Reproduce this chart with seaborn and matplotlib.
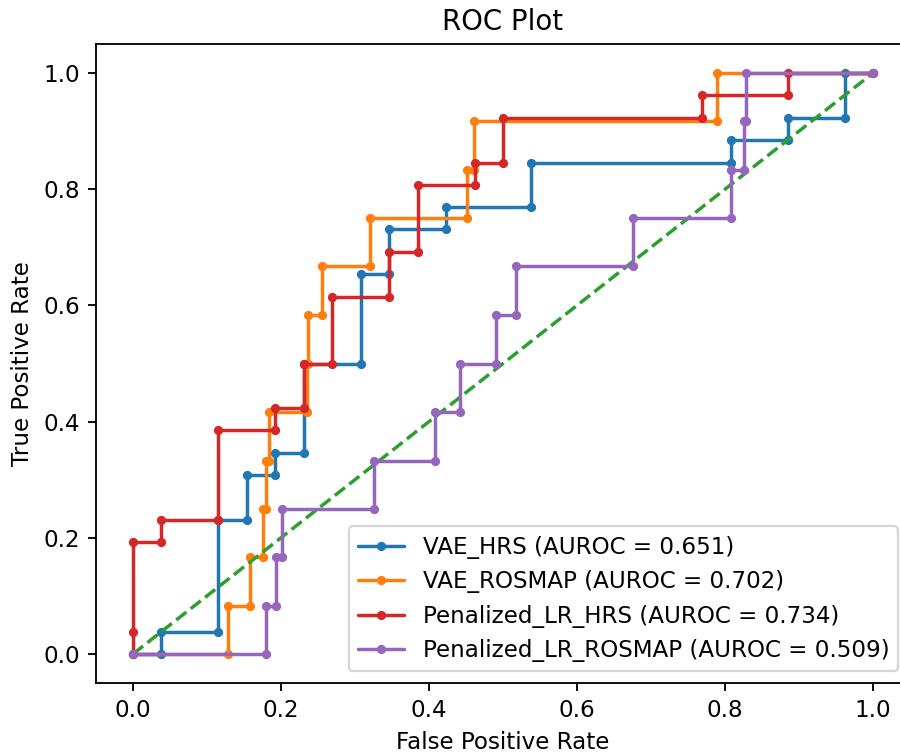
import matplotlib
matplotlib.use("Agg")
import matplotlib.pyplot as plt
import seaborn as sns

# ---- data ----
vae_hrs_fpr = [0, 0.0385, 0.0385, 0.115, 0.115, 0.154, 0.154, 0.192, 0.192, 0.231, 0.231,
               0.308, 0.308, 0.346, 0.346, 0.423, 0.423, 0.538, 0.538, 0.808, 0.808,
               0.885, 0.885, 0.962, 0.962, 1.0]
vae_hrs_tpr = [0, 0, 0.038, 0.038, 0.231, 0.231, 0.308, 0.308, 0.346, 0.346, 0.5,
               0.5, 0.654, 0.654, 0.731, 0.731, 0.769, 0.769, 0.846, 0.846, 0.885,
               0.885, 0.923, 0.923, 1.0, 1.0]

vae_rosmap_fpr = [0, 0.129, 0.129, 0.158, 0.158, 0.175, 0.175, 0.180, 0.180, 0.184, 0.184,
                  0.235, 0.235, 0.237, 0.237, 0.256, 0.256, 0.320, 0.320, 0.451, 0.451,
                  0.461, 0.461, 0.789, 0.789, 1.0]
vae_rosmap_tpr = [0, 0, 0.083, 0.083, 0.167, 0.167, 0.25, 0.25, 0.333, 0.333, 0.417,
                  0.417, 0.5, 0.5, 0.583, 0.583, 0.667, 0.667, 0.75, 0.75, 0.833,
                  0.833, 0.917, 0.917, 1.0, 1.0]

plr_hrs_fpr = [0, 0, 0, 0.0385, 0.0385, 0.115, 0.115, 0.192, 0.192, 0.231, 0.231,
               0.269, 0.269, 0.346, 0.346, 0.385, 0.385, 0.462, 0.462, 0.5, 0.5,
               0.769, 0.769, 0.885, 0.885, 1.0]
plr_hrs_tpr = [0, 0.038, 0.192, 0.192, 0.231, 0.231, 0.385, 0.385, 0.423, 0.423, 0.5,
               0.5, 0.615, 0.615, 0.692, 0.692, 0.808, 0.808, 0.846, 0.846, 0.923,
               0.923, 0.962, 0.962, 1.0, 1.0]

plr_rosmap_fpr = [0, 0.180, 0.180, 0.193, 0.193, 0.202, 0.202, 0.325, 0.325, 0.408, 0.408,
                  0.442, 0.442, 0.491, 0.491, 0.518, 0.518, 0.676, 0.676, 0.808, 0.808,
                  0.825, 0.825, 0.829, 0.829, 1.0]
plr_rosmap_tpr = [0, 0, 0.083, 0.083, 0.167, 0.167, 0.25, 0.25, 0.333, 0.333, 0.417,
                  0.417, 0.5, 0.5, 0.583, 0.583, 0.667, 0.667, 0.75, 0.75, 0.833,
                  0.833, 0.917, 0.917, 1.0, 1.0]

diag_x = [0, 1]
diag_y = [0, 1]

labels = ["VAE_HRS (AUROC = 0.651)", "VAE_ROSMAP (AUROC = 0.702)",
          "Penalized_LR_HRS (AUROC = 0.734)", "Penalized_LR_ROSMAP (AUROC = 0.509)"]

# ---- style ----
s = 1.66
sns.set_style("ticks")
plt.rcParams.update({
    "font.family": ["DejaVu Sans"],
    "font.size": 10 * s,
    "axes.titlesize": 12 * s,
    "axes.labelsize": 10 * s,
    "xtick.labelsize": 10 * s,
    "ytick.labelsize": 10 * s,
    "legend.fontsize": 10 * s,
    "axes.linewidth": 0.8 * s,
    "xtick.major.size": 3.5 * s,
    "ytick.major.size": 3.5 * s,
    "xtick.major.width": 0.8 * s,
    "ytick.major.width": 0.8 * s,
    "xtick.major.pad": 3.5 * s,
    "ytick.major.pad": 3.5 * s,
    "axes.titlepad": 6 * s,
    "axes.labelpad": 4 * s,
    "lines.linewidth": 1.5 * s,
    "lines.markersize": 6 * s,
    "patch.linewidth": 1.0 * s,
    "axes.edgecolor": "black",
    "xtick.color": "black",
    "ytick.color": "black",
    "text.color": "black",
    "axes.labelcolor": "black",
})

fig = plt.figure(figsize=(9, 7.56), dpi=100)
ax = fig.add_axes([96 / 900, 1 - 683 / 756, 814 / 900, 639 / 756])

pal = sns.color_palette("tab10")

def roc(x, y, color, label):
    sns.lineplot(x=x, y=y, ax=ax, sort=False, estimator=None, color=color,
                 marker=".", markeredgecolor=color, markeredgewidth=1.0 * s,
                 label=label, linewidth=1.5 * s)

roc(vae_hrs_fpr, vae_hrs_tpr, pal[0], labels[0])
roc(vae_rosmap_fpr, vae_rosmap_tpr, pal[1], labels[1])
sns.lineplot(x=diag_x, y=diag_y, ax=ax, color=pal[2], linestyle="--",
             linewidth=1.5 * s, legend=False)
roc(plr_hrs_fpr, plr_hrs_tpr, pal[3], labels[2])
roc(plr_rosmap_fpr, plr_rosmap_tpr, pal[4], labels[3])

ax.set_xlim(-0.05, 1.05)
ax.set_ylim(-0.05, 1.05)
ax.set_xticks([0.0, 0.2, 0.4, 0.6, 0.8, 1.0])
ax.set_yticks([0.0, 0.2, 0.4, 0.6, 0.8, 1.0])
ax.set_xlabel("False Positive Rate")
ax.set_ylabel("True Positive Rate")
ax.set_title("ROC Plot")
for sp in ax.spines.values():
    sp.set_visible(True)
ax.legend(loc="lower right", frameon=True)

fig.savefig("out.png", dpi=100)
